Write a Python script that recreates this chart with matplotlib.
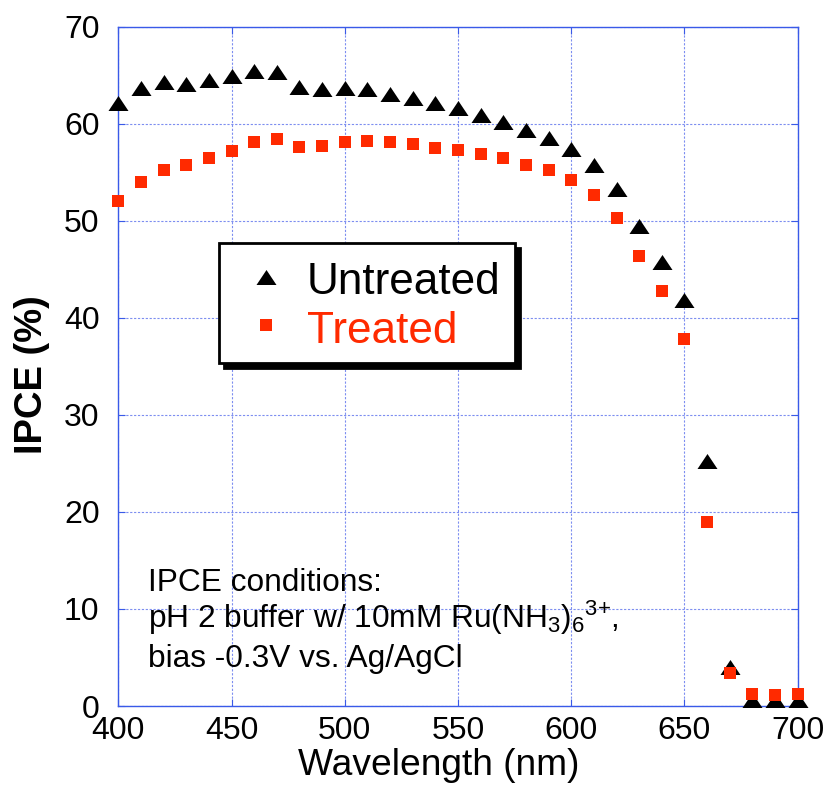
import matplotlib
matplotlib.use("Agg")
import matplotlib.pyplot as plt
from matplotlib.patches import Rectangle
from matplotlib.lines import Line2D

plt.rcParams['font.family'] = ['Liberation Sans', 'DejaVu Sans']
plt.rcParams['mathtext.fontset'] = 'custom'
plt.rcParams['mathtext.rm'] = 'Liberation Sans'
plt.rcParams['mathtext.it'] = 'Liberation Sans:italic'
plt.rcParams['mathtext.bf'] = 'Liberation Sans:bold'

# ---- data ----
wavelength = [400, 410, 420, 430, 440, 450, 460, 470, 480, 490,
              500, 510, 520, 530, 540, 550, 560, 570, 580, 590,
              600, 610, 620, 630, 640, 650, 660, 670, 680, 690, 700]
untreated = [62.1, 63.7, 64.3, 64.1, 64.5, 64.9, 65.4, 65.3, 63.8, 63.6,
             63.7, 63.6, 63.1, 62.7, 62.1, 61.6, 60.9, 60.2, 59.4, 58.5,
             57.4, 55.7, 53.3, 49.5, 45.8, 41.8, 25.2, 4.0, 0.6, 0.6, 0.6]
treated = [52.0, 54.0, 55.2, 55.7, 56.5, 57.2, 58.1, 58.4, 57.6, 57.7,
           58.1, 58.2, 58.1, 57.9, 57.5, 57.3, 56.9, 56.5, 55.8, 55.2,
           54.2, 52.7, 50.3, 46.4, 42.8, 37.8, 19.0, 3.4, 1.2, 1.1, 1.2]
x_ticks = [400, 450, 500, 550, 600, 650, 700]
y_ticks = [0, 10, 20, 30, 40, 50, 60, 70]
series_labels = ["Untreated", "Treated"]
note_lines = ["IPCE conditions:",
              r"pH 2 buffer w/ 10mM Ru(NH$\mathregular{_3}$)$\mathregular{_6{}^{3{+}}}$,",
              "bias -0.3V vs. Ag/AgCl"]

W, H = 827, 785
fig = plt.figure(figsize=(W / 100, H / 100), dpi=100)
ax_l, ax_r, ax_t, ax_b = 118.3, 797.7, 26.7, 706.0
ax = fig.add_axes([ax_l / W, 1 - ax_b / H, (ax_r - ax_l) / W, (ax_b - ax_t) / H])

blue = '#3a5ae8'
red = '#ff2a00'
tri = [(-1, -0.75), (1, -0.75), (0, 0.75)]

ax.plot(wavelength, untreated, linestyle='none', marker=tri, markersize=14.4,
        color='black', markeredgewidth=0, clip_on=False, zorder=3)
ax.plot(wavelength, treated, linestyle='none', marker='s', markersize=9.2,
        color=red, markeredgewidth=0, clip_on=False, zorder=4)

ax.set_xlim(400, 700)
ax.set_ylim(0, 70)
ax.set_xticks(x_ticks)
ax.set_yticks(y_ticks)
ax.grid(True, color='#7d8ef0', linestyle=(0, (2, 1.5)), linewidth=0.8, zorder=0)
ax.set_axisbelow(True)
for s in ax.spines.values():
    s.set_color(blue)
    s.set_linewidth(1.0)
ax.tick_params(axis='both', direction='in', length=5, width=0.8, color=blue,
               top=True, right=True, labelsize=23)
ax.tick_params(axis='x', pad=7.5)
ax.tick_params(axis='y', pad=13.5)

ax.set_xlabel("Wavelength (nm)", fontsize=26.7, va='baseline')
ax.xaxis.set_label_coords((438.5 - ax_l) / (ax_r - ax_l), -(775 - ax_b) / (ax_b - ax_t))
ax.set_ylabel("IPCE (%)", fontsize=27.5, fontweight='bold', va='center')
ax.yaxis.set_label_coords((31.5 - ax_l) / (ax_r - ax_l), (ax_b - 375) / (ax_b - ax_t))

# ---- legend box (drawn in figure pixel coordinates) ----
def fx(px):
    return px / W

def fy(py):
    return 1 - py / H

bl, bt, br, bb = 219, 243.3, 515, 362.7
shadow = Rectangle((fx(bl + 5), fy(bb + 5)), fx(br - bl), (bb - bt) / H,
                   transform=fig.transFigure, facecolor='black', edgecolor='black',
                   linewidth=2, zorder=9)
box = Rectangle((fx(bl), fy(bb)), fx(br - bl), (bb - bt) / H,
                transform=fig.transFigure, facecolor='white', edgecolor='black',
                linewidth=2, zorder=10)
fig.add_artist(shadow)
fig.add_artist(box)
fig.add_artist(Line2D([fx(266)], [fy(276.7)], marker=tri, markersize=14.4, color='black',
                      markeredgewidth=0, linestyle='none', transform=fig.transFigure, zorder=11))
fig.add_artist(Line2D([fx(266)], [fy(325.3)], marker='s', markersize=9.2, color=red,
                      markeredgewidth=0, linestyle='none', transform=fig.transFigure, zorder=11))
fig.text(fx(307), fy(294), series_labels[0], fontsize=31.8, color='black',
         va='baseline', ha='left', zorder=11)
fig.text(fx(307), fy(343), series_labels[1], fontsize=31.8, color=red,
         va='baseline', ha='left', zorder=11)

# ---- annotation ----
for line, base in zip(note_lines, [590.7, 628.3, 666.7]):
    fig.text(fx(148.3), fy(base), line, fontsize=22.8, color='black',
             va='baseline', ha='left')

fig.savefig("out.png", dpi=100)
